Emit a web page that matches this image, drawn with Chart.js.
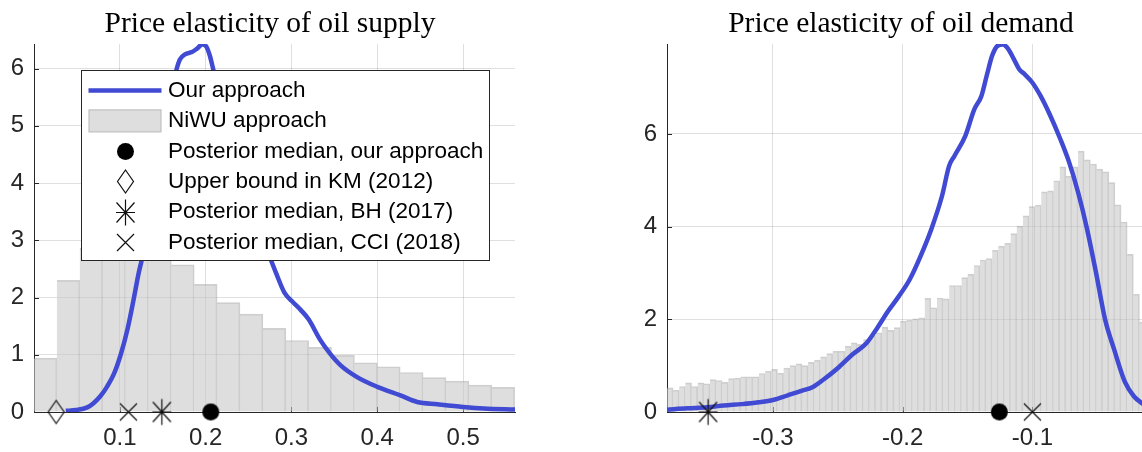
<!DOCTYPE html>
<html>
<head>
<meta charset="utf-8">
<script src="https://cdn.jsdelivr.net/npm/chart.js@4.4.1/dist/chart.umd.min.js"></script>
<style>
  body { margin: 0; background: #fff; overflow: hidden; }
  #wrap { position: relative; width: 1142px; height: 452px; overflow: hidden; }
  canvas { position: absolute; top: 0; }
  #supplyChart { left: 0; }
  #demandChart { left: 600px; }
</style>
</head>
<body>
<div id="wrap">
  <canvas id="supplyChart" width="540" height="452"></canvas>
  <canvas id="demandChart" width="602" height="452"></canvas>
</div>
<script>
// ---- supply panel ----
const supplyCurveX = [0.037, 0.049, 0.062, 0.069, 0.077, 0.085, 0.093, 0.101, 0.109, 0.116, 0.122, 0.127,
  0.135, 0.145, 0.155, 0.166, 0.170, 0.176, 0.184, 0.190, 0.196, 0.201, 0.205, 0.209, 0.220, 0.235, 0.250,
  0.265, 0.276, 0.282, 0.292, 0.301, 0.311, 0.320, 0.3335, 0.345, 0.357, 0.3765, 0.400, 0.427, 0.4465,
  0.470, 0.500, 0.524, 0.561];
const supplyCurveY = [0.02, 0.035, 0.08, 0.15, 0.27, 0.44, 0.66, 1.0, 1.45, 1.96, 2.43, 2.75,
  3.4, 4.3, 5.2, 5.98, 6.16, 6.25, 6.29, 6.35, 6.42, 6.38, 6.22, 5.98, 5.4, 4.5, 3.7,
  3.1, 2.66, 2.43, 2.08, 1.93, 1.78, 1.62, 1.26, 1.02, 0.82, 0.61, 0.44, 0.29, 0.175,
  0.135, 0.088, 0.06, 0.042];
const supplyBinStart = 0;
const supplyBinWidth = 0.02667;
const supplyHist = [0.94, 2.30, 2.86, 2.92, 2.86, 2.72, 2.57, 2.23, 1.91, 1.71, 1.46,
  1.25, 1.13, 0.99, 0.86, 0.79, 0.69, 0.60, 0.54, 0.47, 0.43];
const supplyTicksX = [0.1, 0.2, 0.3, 0.4, 0.5];
const supplyTicksY = [0, 1, 2, 3, 4, 5, 6];
const supplyOurs = 0.206;
const supplyKM = 0.0258;
const supplyBH = 0.149;
const supplyCCI = 0.11;

// ---- demand panel ----
const demandCurveX = [-0.3817, -0.366, -0.351, -0.338, -0.324, -0.311, -0.300, -0.2886, -0.2775, -0.2692,
  -0.261, -0.2499, -0.2388, -0.2278, -0.2195, -0.2112, -0.2029, -0.1946, -0.1863, -0.178, -0.1697,
  -0.1642, -0.160, -0.1517, -0.1448, -0.1393, -0.1352, -0.131, -0.1269, -0.1227, -0.1186, -0.1144,
  -0.1103, -0.1061, -0.1001, -0.0937, -0.0868, -0.0785, -0.0716, -0.0647, -0.0578, -0.0509, -0.044,
  -0.037, -0.0287, -0.0218, -0.0155, -0.0132];
const demandCurveY = [0.05, 0.08, 0.10, 0.14, 0.17, 0.21, 0.26, 0.36, 0.46, 0.54,
  0.70, 0.95, 1.24, 1.49, 1.82, 2.18, 2.50, 2.86, 3.36, 3.94, 4.66,
  5.31, 5.53, 5.96, 6.53, 6.82, 7.26, 7.69, 7.90, 7.93, 7.83, 7.62,
  7.40, 7.29, 7.11, 6.82, 6.43, 5.89, 5.38, 4.73, 3.94, 3.00, 2.00,
  1.35, 0.65, 0.34, 0.19, 0.15];
const demandBinStart = -0.3817;
const demandBinWidth = 0.00473;
const demandHist = [0.52, 0.47, 0.55, 0.63, 0.55, 0.63, 0.61, 0.70, 0.68, 0.64,
  0.72, 0.73, 0.76, 0.76, 0.76, 0.83, 0.88, 0.92, 0.84, 0.95,
  1.00, 1.04, 1.00, 1.07, 1.12, 1.19, 1.26, 1.31, 1.31, 1.42,
  1.49, 1.46, 1.56, 1.65, 1.71, 1.83, 1.76, 1.82, 1.96, 1.98,
  2.01, 2.03, 2.45, 2.25, 2.46, 2.44, 2.73, 2.73, 2.90, 2.97,
  3.16, 3.28, 3.31, 3.49, 3.58, 3.64, 3.85, 4.01, 4.23, 4.43,
  4.46, 4.75, 4.77, 4.99, 5.29, 5.09, 5.29, 5.63, 5.44, 5.35,
  5.24, 5.18, 4.95, 4.47, 4.10, 3.40, 2.54, 1.94];
const demandTicksX = [-0.3, -0.2, -0.1];
const demandTicksY = [0, 2, 4, 6];
const demandOurs = -0.1255;
const demandBH = -0.35;
const demandCCI = -0.1;

const legendLabels = ['Our approach', 'NiWU approach', 'Posterior median, our approach',
  'Upper bound in KM (2012)', 'Posterior median, BH (2017)', 'Posterior median, CCI (2018)'];

const blue = 'rgb(64, 74, 210)';
const axisColor = '#262626';
const gridColor = 'rgba(38, 38, 38, 0.15)';
const barFill = 'rgba(200, 200, 200, 0.6)';
const barEdge = 'rgba(120, 120, 120, 0.35)';
const tickFont = { family: 'Liberation Sans', size: 24 };

// marker glyphs drawn once on small canvases, used as point styles
function markerCanvas(w, h, draw) {
  const c = document.createElement('canvas');
  c.width = w; c.height = h;
  const g = c.getContext('2d');
  g.strokeStyle = '#111'; g.fillStyle = '#000'; g.lineWidth = 1.2;
  draw(g, w / 2, h / 2);
  return c;
}
const markers = {
  dot: markerCanvas(19, 19, (g, cx, cy) => {
    g.beginPath(); g.arc(cx, cy, 8.5, 0, Math.PI * 2); g.fill();
  }),
  diamond: markerCanvas(19, 27, (g, cx, cy) => {
    g.beginPath();
    g.moveTo(cx, cy - 11.5); g.lineTo(cx + 8, cy); g.lineTo(cx, cy + 11.5); g.lineTo(cx - 8, cy);
    g.closePath(); g.stroke();
  }),
  asterisk: markerCanvas(25, 29, (g, cx, cy) => {
    g.beginPath();
    g.moveTo(cx, cy - 13); g.lineTo(cx, cy + 13);
    g.moveTo(cx - 9.5, cy); g.lineTo(cx + 9.5, cy);
    g.moveTo(cx - 9, cy - 10); g.lineTo(cx + 9, cy + 10);
    g.moveTo(cx - 9, cy + 10); g.lineTo(cx + 9, cy - 10);
    g.stroke();
  }),
  cross: markerCanvas(21, 21, (g, cx, cy) => {
    g.beginPath();
    g.moveTo(cx - 8.5, cy - 8.5); g.lineTo(cx + 8.5, cy + 8.5);
    g.moveTo(cx - 8.5, cy + 8.5); g.lineTo(cx + 8.5, cy - 8.5);
    g.stroke();
  })
};

function pairs(xs, ys) { return xs.map((x, i) => ({ x: x, y: ys[i] })); }
function bins(start, width, heights) {
  return heights.map((h, i) => ({ x: start + (i + 0.5) * width, y: h }));
}
function marker(label, x, style) {
  return { type: 'scatter', label: label, data: [{ x: x, y: 0 }], pointStyle: style,
    pointRadius: 9, clip: false, order: 0 };
}

// short inward tick marks along both axes
const innerTicks = {
  id: 'innerTicks',
  beforeDatasetsDraw(chart) {
    const { ctx, chartArea: a, scales: { x, y } } = chart;
    ctx.save();
    ctx.strokeStyle = axisColor; ctx.lineWidth = 1;
    ctx.beginPath();
    x.ticks.forEach(t => {
      const px = Math.round(x.getPixelForValue(t.value)) + 0.5;
      ctx.moveTo(px, a.bottom); ctx.lineTo(px, a.bottom - 5);
    });
    y.ticks.forEach(t => {
      const py = Math.round(y.getPixelForValue(t.value)) + 0.5;
      ctx.moveTo(a.left, py); ctx.lineTo(a.left + 5, py);
    });
    ctx.stroke();
    ctx.restore();
  }
};

// serif title, centred at a set x above the plot
const panelTitle = {
  id: 'panelTitle',
  afterDraw(chart, args, o) {
    const ctx = chart.ctx;
    ctx.save();
    ctx.font = o.size + 'px "Liberation Serif"';
    ctx.fillStyle = '#000';
    ctx.textAlign = 'center';
    ctx.textBaseline = 'alphabetic';
    ctx.fillText(o.text, o.x, o.baseline);
    ctx.restore();
  }
};

// boxed legend sitting inside the plot
const boxLegend = {
  id: 'boxLegend',
  afterDatasetsDraw(chart, args, o) {
    const ctx = chart.ctx;
    ctx.save();
    ctx.fillStyle = '#fff';
    ctx.fillRect(o.left, o.top, o.width, o.height);
    ctx.strokeStyle = axisColor; ctx.lineWidth = 1;
    ctx.strokeRect(o.left + 0.5, o.top + 0.5, o.width, o.height);
    ctx.font = o.fontSize + 'px Liberation Sans';
    ctx.textBaseline = 'middle';
    const sx = o.left + o.symbolLeft;
    chart.data.datasets.forEach((ds, i) => {
      const y = o.top + o.firstRow + i * o.rowGap;
      if (ds.type === 'line') {
        ctx.strokeStyle = ds.borderColor; ctx.lineWidth = ds.borderWidth;
        ctx.beginPath(); ctx.moveTo(sx, y); ctx.lineTo(sx + o.symbolWidth, y); ctx.stroke();
      } else if (ds.type === 'bar') {
        ctx.fillStyle = ds.backgroundColor;
        ctx.fillRect(sx, y - o.patchHeight / 2, o.symbolWidth, o.patchHeight);
        ctx.strokeStyle = ds.borderColor; ctx.lineWidth = 1;
        ctx.strokeRect(sx + 0.5, y - o.patchHeight / 2 + 0.5, o.symbolWidth - 1, o.patchHeight - 1);
      } else {
        const img = ds.pointStyle;
        ctx.drawImage(img, Math.round(sx + o.symbolWidth / 2 - img.width / 2), Math.round(y - img.height / 2));
      }
      ctx.fillStyle = '#000';
      ctx.fillText(ds.label, o.left + o.textLeft, y);
    });
    ctx.restore();
  }
};

function panel(id, p) {
  return new Chart(document.getElementById(id), {
    type: 'scatter',
    data: { datasets: p.datasets },
    options: {
      responsive: false,
      animation: false,
      events: [],
      layout: { padding: { left: 0, right: p.padRight, top: 44, bottom: 0 } },
      plugins: {
        legend: { display: false },
        tooltip: { enabled: false },
        title: { display: false },
        panelTitle: { text: p.title, x: p.titleX, baseline: 32, size: 29.5 },
        boxLegend: p.legend
      },
      scales: {
        x: {
          type: 'linear', min: p.xMin, max: p.xMax, offset: false,
          afterBuildTicks: s => { s.ticks = p.xTicks.map(v => ({ value: v })); },
          afterFit: s => { s.height = 40; },
          grid: { color: gridColor, drawTicks: false, offset: false },
          border: { color: axisColor, width: 1 },
          ticks: { color: axisColor, font: tickFont, padding: 12, maxRotation: 0, autoSkip: false,
            callback: v => String(v) }
        },
        y: {
          type: 'linear', min: 0, max: p.yMax,
          afterBuildTicks: s => { s.ticks = p.yTicks.map(v => ({ value: v })); },
          afterFit: s => { s.width = p.yAxisWidth; },
          grid: { color: gridColor, drawTicks: false },
          border: { color: axisColor, width: 1 },
          ticks: { color: axisColor, font: tickFont, padding: 10, callback: v => String(v) }
        }
      }
    },
    plugins: [innerTicks, boxLegend, panelTitle]
  });
}

function curveSet(xs, ys) {
  return { type: 'line', label: legendLabels[0], data: pairs(xs, ys), borderColor: blue, borderWidth: 4.5,
    pointRadius: 0, cubicInterpolationMode: 'monotone', fill: false, order: 1 };
}
function histSet(start, width, heights) {
  return { type: 'bar', label: legendLabels[1], data: bins(start, width, heights),
    backgroundColor: barFill, borderColor: barEdge,
    borderWidth: { top: 1, right: 1, left: 0, bottom: 0 },
    barPercentage: 1, categoryPercentage: 1, order: 2 };
}

panel('supplyChart', {
  title: 'Price elasticity of oil supply', titleX: 270,
  xMin: 0, xMax: 0.5605, yMax: 6.43, padRight: 25, yAxisWidth: 34,
  xTicks: supplyTicksX, yTicks: supplyTicksY,
  datasets: [
    curveSet(supplyCurveX, supplyCurveY),
    histSet(supplyBinStart, supplyBinWidth, supplyHist),
    marker(legendLabels[2], supplyOurs, markers.dot),
    marker(legendLabels[3], supplyKM, markers.diamond),
    marker(legendLabels[4], supplyBH, markers.asterisk),
    marker(legendLabels[5], supplyCCI, markers.cross)
  ],
  legend: { left: 81, top: 70, width: 408, height: 190, firstRow: 20.5, rowGap: 30.4,
    symbolLeft: 7.5, symbolWidth: 73, patchHeight: 23, textLeft: 87, fontSize: 22.5 }
});

panel('demandChart', {
  title: 'Price elasticity of oil demand', titleX: 301,
  xMin: -0.3817, xMax: -0.0132, yMax: 7.94, padRight: 57, yAxisWidth: 67,
  xTicks: demandTicksX, yTicks: demandTicksY,
  datasets: [
    curveSet(demandCurveX, demandCurveY),
    histSet(demandBinStart, demandBinWidth, demandHist),
    marker(legendLabels[2], demandOurs, markers.dot),
    marker(legendLabels[4], demandBH, markers.asterisk),
    marker(legendLabels[5], demandCCI, markers.cross)
  ],
  legend: false
});
</script>
</body>
</html>
